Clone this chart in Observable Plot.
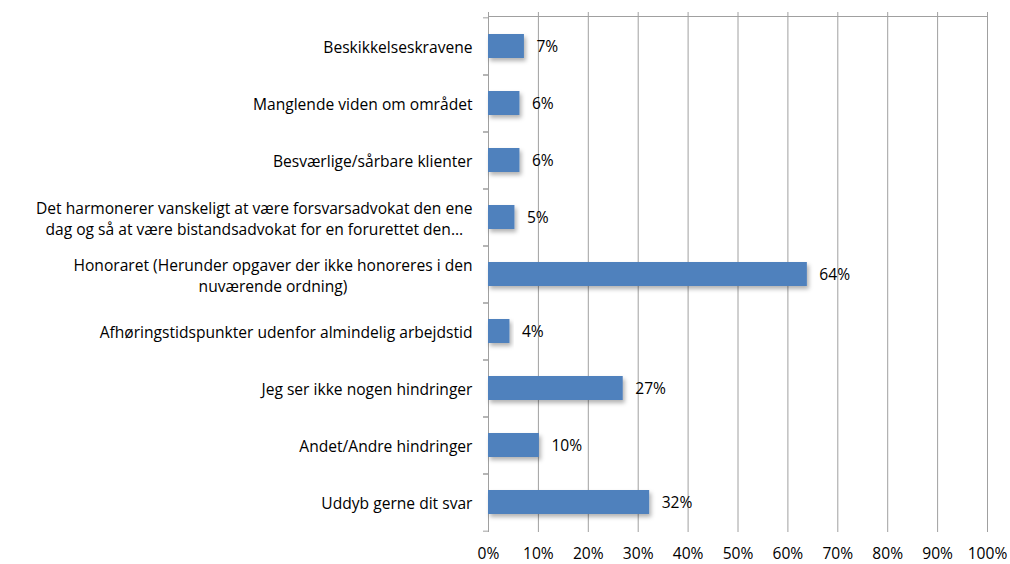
<!DOCTYPE html>
<html>
<head>
<meta charset="utf-8">
<script src="https://cdn.jsdelivr.net/npm/d3@7"></script>
<script src="https://cdn.jsdelivr.net/npm/@observablehq/plot@0.6"></script>
<style>
  html, body { margin: 0; padding: 0; background: #fff; }
  #chart { width: 1010px; height: 564px; }
</style>
</head>
<body>
<div id="chart"></div>
<script>
const categories = [
  "Beskikkelseskravene",
  "Manglende viden om området",
  "Besværlige/sårbare klienter",
  "Det harmonerer vanskeligt at være forsvarsadvokat den ene\ndag og så at være bistandsadvokat for en forurettet den…",
  "Honoraret (Herunder opgaver der ikke honoreres i den\nnuværende ordning)",
  "Afhøringstidspunkter udenfor almindelig arbejdstid",
  "Jeg ser ikke nogen hindringer",
  "Andet/Andre hindringer",
  "Uddyb gerne dit svar"
];
const values = [0.072, 0.063, 0.063, 0.053, 0.639, 0.043, 0.27, 0.102, 0.323];
const labels = ["7%", "6%", "6%", "5%", "64%", "4%", "27%", "10%", "32%"];
const xTicks = [0, 0.1, 0.2, 0.3, 0.4, 0.5, 0.6, 0.7, 0.8, 0.9, 1];

const data = categories.map((c, i) => ({category: c, value: values[i], label: labels[i]}));

const H = 564, mt = 16, mb = 32;
const step = (H - mt - mb) / categories.length;
const font = "'Open Sans', 'Noto Sans', sans-serif";
const fs = 15.6;
const pct = d => Math.round(d * 100) + "%";

const chart = Plot.plot({
  width: 1010,
  height: H,
  marginLeft: 488,
  marginRight: 23,
  marginTop: mt,
  marginBottom: mb,
  style: {fontFamily: font, fontSize: fs + "px", color: "#000", background: "#fff"},
  x: {domain: [0, 1], ticks: xTicks, tickFormat: pct},
  y: {domain: categories, paddingInner: 0.58, paddingOuter: 0.29},
  marks: [
    Plot.gridX(xTicks, {stroke: "#a0a0a0", strokeOpacity: 1, strokeWidth: 1}),
    Plot.axisX(xTicks, {anchor: "top", tickSize: 5, text: null, stroke: "#a0a0a0", strokeOpacity: 1, label: null}),
    Plot.axisX(xTicks, {anchor: "bottom", tickSize: 0, tickPadding: 15, tickFormat: pct, label: null, fontSize: fs, fill: "#000"}),
    Plot.frame({anchor: "top", stroke: "#a0a0a0", strokeOpacity: 1}),
    Plot.axisY({anchor: "left", tickSize: 5, text: null, stroke: "#a0a0a0", strokeOpacity: 1, dy: step / 2, label: null}),
    Plot.axisY({anchor: "left", tickSize: 5, text: null, stroke: "#a0a0a0", strokeOpacity: 1, dy: -step / 2, label: null}),
    Plot.axisY({anchor: "left", tickSize: 0, tickPadding: 16, label: null, fontSize: fs, fill: "#000", lineHeight: 1.36}),
    Plot.barX(data, {y: "category", x: "value", fill: "#4f81bd"}),
    Plot.text(data, {y: "category", x: "value", text: "label", textAnchor: "start", dx: 12, fontSize: fs, fill: "#000"})
  ]
});

document.getElementById("chart").appendChild(chart);

// drop shadow for bars
const svg = d3.select(chart);
const defs = svg.insert("defs", ":first-child");
const f = defs.append("filter").attr("id", "barShadow").attr("x", "-10%").attr("y", "-30%").attr("width", "130%").attr("height", "180%");
f.append("feDropShadow").attr("dx", 2).attr("dy", 3).attr("stdDeviation", 2).attr("flood-color", "#000").attr("flood-opacity", 0.3);
svg.selectAll("g[aria-label=bar] rect").attr("filter", "url(#barShadow)");

// center multi-line category labels as blocks, right-aligned to the axis
svg.selectAll("g[aria-label='y-axis tick label'] text").each(function () {
  const tspans = this.querySelectorAll("tspan");
  if (tspans.length < 2) return;
  let maxW = 0;
  tspans.forEach(t => { maxW = Math.max(maxW, t.getComputedTextLength()); });
  this.setAttribute("text-anchor", "middle");
  tspans.forEach(t => t.setAttribute("x", -maxW / 2));
});
</script>
</body>
</html>
